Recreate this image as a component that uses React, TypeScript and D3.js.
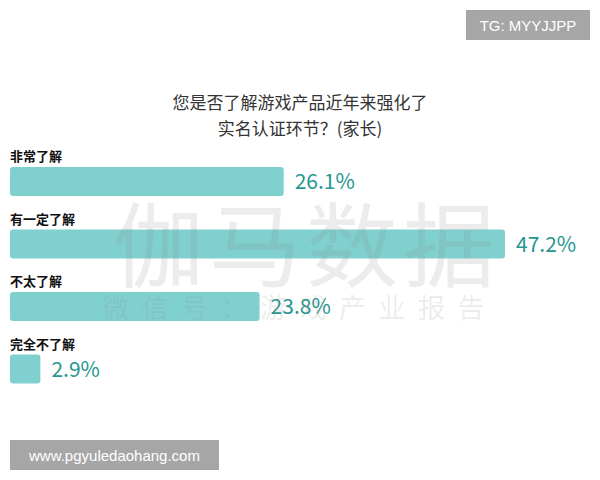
import React from "react";
import * as d3 from "d3";

const categories = ["非常了解", "有一定了解", "不太了解", "完全不了解"];
const values = [26.1, 47.2, 23.8, 2.9];
const titleLines = ["您是否了解游戏产品近年来强化了", "实名认证环节？(家长)"];

const W = 600;
const H = 480;

export default function App() {
  const x = d3.scaleLinear().domain([0, 47.2]).range([10, 505]);
  const y = d3.scaleBand().domain(categories).range([167, 383.5]).paddingInner(0.536).paddingOuter(0);
  const font = "'Noto Sans CJK SC', 'Noto Sans', sans-serif";
  return (
    <svg width={W} height={H} style={{ position: "absolute", left: 0, top: 0, background: "#fff" }}>
      <rect width={W} height={H} fill="#fff" />
      {titleLines.map((t, i) => (
        <text key={i} x={300} y={109 + i * 26} textAnchor="middle" fontFamily={font} fontSize={17} fill="#333">{t}</text>
      ))}
      {categories.map((c, i) => {
        const by = y(c)!;
        const bh = y.bandwidth();
        return (
          <g key={c}>
            <text x={10} y={by - 6} fontFamily={font} fontSize={13} fontWeight={700} fill="#111">{c}</text>
            <rect x={x(0)} y={by} width={x(values[i]) - x(0)} height={bh} rx={3} fill="#80d0d0" />
            <text x={x(values[i]) + 11} y={by + bh / 2 + 7.5} fontFamily={font} fontSize={21} fill="#26968e">{values[i].toFixed(1)}%</text>
          </g>
        );
      })}
      {/* watermark overlay */}
      <g fill="#8a8a8a" fillOpacity={0.16} fontFamily={font}>
        <text x={112} y={280} fontSize={92} letterSpacing={5}>伽马数据</text>
        <text x={102} y={318} fontSize={27} letterSpacing={12.5}>微信号：游戏产业报告</text>
      </g>
      <rect x={466} y={10} width={124} height={30} fill="#a6a6a6" />
      <text x={528} y={31} textAnchor="middle" fontFamily="'Liberation Sans', Arial, sans-serif" fontSize={15} fill="#fff">TG: MYYJJPP</text>
      <rect x={10} y={440} width={209} height={30} fill="#a6a6a6" />
      <text x={114.5} y={461} textAnchor="middle" fontFamily="'Liberation Sans', Arial, sans-serif" fontSize={15} fill="#fff">www.pgyuledaohang.com</text>
    </svg>
  );
}
